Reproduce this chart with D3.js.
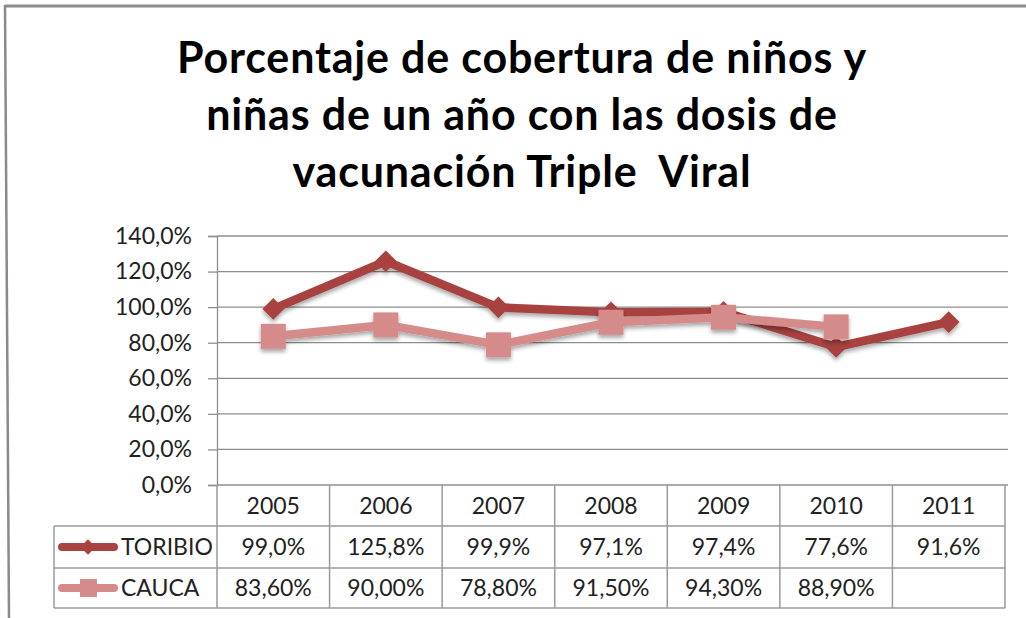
<!DOCTYPE html>
<html>
<head>
<meta charset="utf-8">
<script src="https://cdn.jsdelivr.net/npm/d3@7"></script>
<style>
  html, body { margin: 0; padding: 0; background: #fff; }
  svg { display: block; }
  text { font-family: Lato, "Open Sans", sans-serif; fill: #222; }
</style>
</head>
<body>
<svg id="chart" width="1026" height="618"></svg>
<script>
// Data
const years = ["2005", "2006", "2007", "2008", "2009", "2010", "2011"];
const toribio = [99.0, 125.8, 99.9, 97.1, 97.4, 77.6, 91.6];
const cauca = [83.6, 90.0, 78.8, 91.5, 94.3, 88.9, null];
const toribioLabels = ["99,0%", "125,8%", "99,9%", "97,1%", "97,4%", "77,6%", "91,6%"];
const caucaLabels = ["83,60%", "90,00%", "78,80%", "91,50%", "94,30%", "88,90%", ""];
const yTicks = [0, 20, 40, 60, 80, 100, 120, 140];
const titleLines = ["Porcentaje de cobertura de niños y", "niñas de un año con las dosis de", "vacunación Triple  Viral"];

const colToribio = "#A84341";
const colCauca = "#D48B8A";
const gridCol = "#8e8e8e";
const tableCol = "#9a9a9a";
const fs = 23;

const svg = d3.select("#chart");

// Shadow filter for markers and lines
const defs = svg.append("defs");
const f = defs.append("filter").attr("id", "shadow").attr("x", "-30%").attr("y", "-30%").attr("width", "160%").attr("height", "170%");
f.append("feDropShadow").attr("dx", 0).attr("dy", 3).attr("stdDeviation", 2.2).attr("flood-color", "#000").attr("flood-opacity", 0.35);

// Outer frame (top and left edges)
svg.append("line").attr("x1", 5).attr("y1", 6).attr("x2", 1026).attr("y2", 6)
  .attr("stroke", "#8a8a8a").attr("stroke-width", 3);
svg.append("line").attr("x1", 5).attr("y1", 5).attr("x2", 9).attr("y2", 618)
  .attr("stroke", "#8a8a8a").attr("stroke-width", 2.5);

// Title
svg.append("g").selectAll("text").data(titleLines).join("text")
  .attr("x", 522).attr("y", (d, i) => 73 + i * 57)
  .attr("text-anchor", "middle")
  .attr("font-weight", "bold").attr("font-size", 43)
  .attr("letter-spacing", 0.8)
  .style("white-space", "pre")
  .style("fill", "#000")
  .text(d => d);

// Scales
const x0 = 217, x1 = 1005;
const x = d3.scaleBand().domain(years).range([x0, x1]);
const y = d3.scaleLinear().domain([0, 140]).range([485, 236]);

// Gridlines
svg.append("g").selectAll("line").data(yTicks).join("line")
  .attr("x1", x0).attr("x2", 1008)
  .attr("y1", d => y(d)).attr("y2", d => y(d))
  .attr("stroke", gridCol).attr("stroke-width", 1.3);

// Y axis
const yAxis = d3.axisLeft(y).tickValues(yTicks).tickSize(9).tickPadding(16)
  .tickFormat(d => d3.format(".1f")(d).replace(".", ",") + "%");
const ya = svg.append("g").attr("transform", `translate(${x0},0)`).call(yAxis);
ya.select(".domain").attr("stroke", gridCol).attr("stroke-width", 1.3);
ya.selectAll(".tick line").attr("stroke", gridCol).attr("stroke-width", 1.3);
ya.selectAll(".tick text").attr("font-size", fs).attr("font-family", "Lato, sans-serif").style("fill", "#222");

// Data table
const rowH = [485, 526, 568, 608];
const legendLeft = 54;
const tbl = svg.append("g");
[1, 2, 3].forEach(r => {
  tbl.append("line").attr("x1", legendLeft).attr("x2", x1).attr("y1", rowH[r]).attr("y2", rowH[r])
    .attr("stroke", tableCol).attr("stroke-width", 1.5);
});
const vx = years.map(d => x(d)).concat([x1]);
tbl.selectAll("line.v").data(vx).join("line").attr("class", "v")
  .attr("x1", d => d).attr("x2", d => d).attr("y1", rowH[0]).attr("y2", rowH[3])
  .attr("stroke", tableCol).attr("stroke-width", 1.5);
tbl.append("line").attr("x1", legendLeft).attr("x2", legendLeft).attr("y1", rowH[1]).attr("y2", rowH[3])
  .attr("stroke", tableCol).attr("stroke-width", 1.5);

// header years and values
tbl.selectAll("text.yr").data(years).join("text").attr("class", "yr")
  .attr("x", d => x(d) + x.bandwidth() / 2).attr("y", 514)
  .attr("text-anchor", "middle").attr("font-size", fs).text(d => d);
tbl.selectAll("text.tv").data(toribioLabels).join("text").attr("class", "tv")
  .attr("x", (d, i) => x(years[i]) + x.bandwidth() / 2).attr("y", 555)
  .attr("text-anchor", "middle").attr("font-size", fs).text(d => d);
tbl.selectAll("text.cv").data(caucaLabels).join("text").attr("class", "cv")
  .attr("x", (d, i) => x(years[i]) + x.bandwidth() / 2).attr("y", 596)
  .attr("text-anchor", "middle").attr("font-size", fs).text(d => d);

// Legend keys
const lg1 = tbl.append("g");
lg1.append("line").attr("x1", 62).attr("x2", 114).attr("y1", 547).attr("y2", 547)
  .attr("stroke", colToribio).attr("stroke-width", 8).attr("stroke-linecap", "round");
lg1.append("path").attr("d", d3.symbol(d3.symbolDiamond2, 150)()).attr("transform", "translate(88,547)").attr("fill", colToribio);
lg1.append("text").attr("x", 121).attr("y", 555).attr("font-size", fs).text("TORIBIO");
const lg2 = tbl.append("g");
lg2.append("line").attr("x1", 62).attr("x2", 114).attr("y1", 588).attr("y2", 588)
  .attr("stroke", colCauca).attr("stroke-width", 8).attr("stroke-linecap", "round");
lg2.append("rect").attr("x", 80).attr("y", 579).attr("width", 17).attr("height", 18).attr("fill", colCauca);
lg2.append("text").attr("x", 121).attr("y", 596).attr("font-size", fs).text("CAUCA");

// Series
const cx = d => x(d) + x.bandwidth() / 2;
const lineGen = d3.line().defined(d => d.v != null).x(d => cx(d.year)).y(d => y(d.v));
const tData = years.map((yr, i) => ({ year: yr, v: toribio[i] }));
const cData = years.map((yr, i) => ({ year: yr, v: cauca[i] })).filter(d => d.v != null);

const gT = svg.append("g").attr("filter", "url(#shadow)");
gT.append("path").datum(tData).attr("d", lineGen).attr("fill", "none")
  .attr("stroke", colToribio).attr("stroke-width", 8.5).attr("stroke-linejoin", "round");
gT.selectAll("path.m").data(tData).join("path").attr("class", "m")
  .attr("d", d3.symbol(d3.symbolDiamond2, 300)())
  .attr("transform", d => `translate(${cx(d.year)},${y(d.v)})`)
  .attr("fill", colToribio);

const gC = svg.append("g").attr("filter", "url(#shadow)");
gC.append("path").datum(cData).attr("d", lineGen).attr("fill", "none")
  .attr("stroke", colCauca).attr("stroke-width", 8.5).attr("stroke-linejoin", "round");
gC.selectAll("rect.m").data(cData).join("rect").attr("class", "m")
  .attr("x", d => cx(d.year) - 12.5).attr("y", d => y(d.v) - 12.5)
  .attr("width", 25).attr("height", 25).attr("fill", colCauca);
</script>
</body>
</html>
